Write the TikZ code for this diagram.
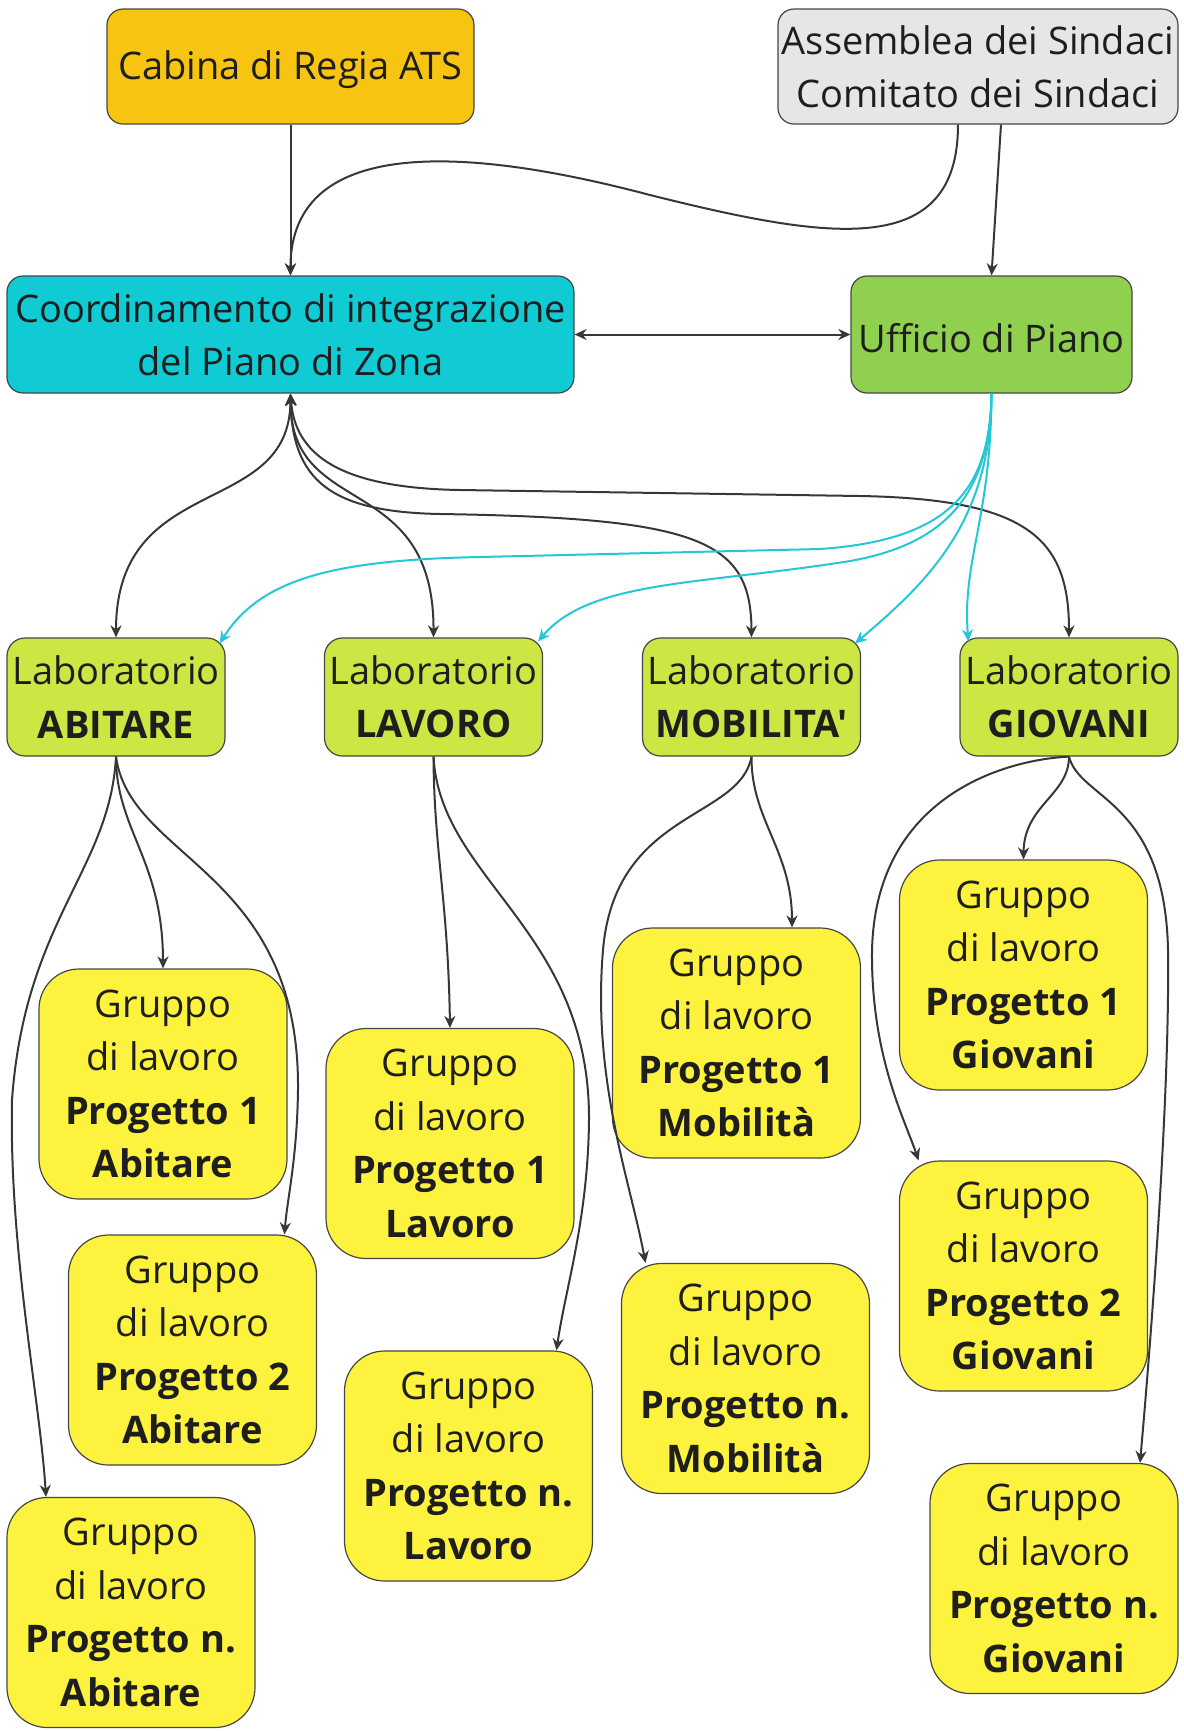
\documentclass[tikz,border=0pt]{standalone}
\usepackage{fontspec}
\setmainfont{Open Sans}[Ligatures=TeXOff]
\usetikzlibrary{arrows.meta}
\definecolor{cabcol}{RGB}{247,197,17}
\definecolor{asmcol}{RGB}{230,230,230}
\definecolor{coordcol}{RGB}{16,203,211}
\definecolor{uffcol}{RGB}{143,209,79}
\definecolor{labcol}{RGB}{205,230,68}
\definecolor{grpcol}{RGB}{253,242,62}
\definecolor{boxline}{RGB}{70,70,70}
\definecolor{arrcol}{RGB}{55,55,55}
\definecolor{cyancol}{RGB}{35,200,212}
\definecolor{txt}{RGB}{30,30,30}
\begin{document}
\begin{tikzpicture}[x=0.5pt,y=-0.5pt,
  box/.style={draw=boxline, line width=0.6pt, align=center, inner sep=1pt,
    font=\fontsize{19}{26.7}\selectfont, text=txt,
    execute at begin node={\rule{0pt}{18pt}}},
  topbox/.style={box, minimum height=57.5pt, rounded corners=8pt},
  labbox/.style={box, fill=labcol, minimum width=109pt, minimum height=59pt, rounded corners=9pt},
  grpbox/.style={box, fill=grpcol, minimum width=124pt, minimum height=115pt, rounded corners=20pt},
  conn/.style={draw=arrcol, line width=1pt, -{Stealth[length=6pt,width=5.5pt]}},
  conntwo/.style={draw=arrcol, line width=1pt, {Stealth[length=6pt,width=5.5pt]}-{Stealth[length=6pt,width=5.5pt]}},
  cyconn/.style={draw=cyancol, line width=1pt, -{Stealth[length=6pt,width=5.5pt]}},
]
\useasboundingbox (0,0) rectangle (1184,1731);

% top level
\node[topbox, fill=cabcol, minimum width=183.5pt] (cab) at (290.5,66.5) {Cabina di Regia ATS};
\node[topbox, fill=asmcol, minimum width=200pt] (asm) at (978,66.5) {Assemblea dei Sindaci\\Comitato dei Sindaci};
\node[topbox, fill=coordcol, minimum width=283.5pt, minimum height=58.5pt] (coord) at (290.5,334.5) {Coordinamento di integrazione\\del Piano di Zona};
\node[topbox, fill=uffcol, minimum width=140.5pt, minimum height=58.5pt] (uff) at (991.5,334.5) {Ufficio di Piano};

% laboratori
\node[labbox] (labA) at (116,697) {Laboratorio\\\textbf{ABITARE}};
\node[labbox] (labL) at (433.5,697) {Laboratorio\\\textbf{LAVORO}};
\node[labbox] (labM) at (751.5,697) {Laboratorio\\\textbf{MOBILITA'}};
\node[labbox] (labG) at (1069,697) {Laboratorio\\\textbf{GIOVANI}};

% gruppi
\node[grpbox] (ga1) at (163,1084) {Gruppo\\di lavoro\\\textbf{Progetto 1}\\\textbf{Abitare}};
\node[grpbox] (ga2) at (192.5,1350) {Gruppo\\di lavoro\\\textbf{Progetto 2}\\\textbf{Abitare}};
\node[grpbox] (gan) at (131,1612.5) {Gruppo\\di lavoro\\\textbf{Progetto n.}\\\textbf{Abitare}};
\node[grpbox] (gl1) at (450,1143.5) {Gruppo\\di lavoro\\\textbf{Progetto 1}\\\textbf{Lavoro}};
\node[grpbox] (gln) at (468.5,1466) {Gruppo\\di lavoro\\\textbf{Progetto n.}\\\textbf{Lavoro}};
\node[grpbox] (gm1) at (736.5,1043) {Gruppo\\di lavoro\\\textbf{Progetto 1}\\\textbf{Mobilità}};
\node[grpbox] (gmn) at (745.5,1378.5) {Gruppo\\di lavoro\\\textbf{Progetto n.}\\\textbf{Mobilità}};
\node[grpbox] (gg1) at (1023.5,975) {Gruppo\\di lavoro\\\textbf{Progetto 1}\\\textbf{Giovani}};
\node[grpbox] (gg2) at (1023.5,1276) {Gruppo\\di lavoro\\\textbf{Progetto 2}\\\textbf{Giovani}};
\node[grpbox] (ggn) at (1054,1578.5) {Gruppo\\di lavoro\\\textbf{Progetto n.}\\\textbf{Giovani}};

% top connectors
\draw[conn] (cab.south) -- (coord.north);
\draw[conn] ([xshift=-10pt]asm.south) .. controls (958,260) and (830,240) .. (650,195)
   .. controls (480,150) and (290,130) .. (coord.north);
\draw[conn] ([xshift=11.5pt]asm.south) -- (uff.north);
\draw[conntwo] (coord.east) -- (uff.west);

% coordinamento <-> laboratori
\draw[conntwo] (coord.south) .. controls (290,520) and (116,470) .. (labA.north);
\draw[conntwo] (coord.south) .. controls (290,520) and (434,470) .. (labL.north);
\draw[conntwo] (coord.south) .. controls (292,480) and (330,512) .. (440,514)
   .. controls (700,518) and (751,540) .. (labM.north);
\draw[conntwo] (coord.south) .. controls (295,455) and (340,488) .. (460,490) -- (860,496)
   .. controls (1030,499) and (1069,540) .. (labG.north);

% ufficio -> laboratori (cyan)
\draw[cyconn] (uff.south) .. controls (990,490) and (950,540) .. (820,549) -- (480,557)
   .. controls (330,560) and (260,580) .. ([xshift=-3pt,yshift=-3pt]labA.north east);
\draw[cyconn] (uff.south) .. controls (990,500) and (940,545) .. (850,561)
   .. controls (700,585) and (590,580) .. ([xshift=-2.5pt,yshift=-2pt]labL.north east);
\draw[cyconn] (uff.south) .. controls (991,520) and (930,580) .. ([xshift=-3pt,yshift=-3pt]labM.north east);
\draw[cyconn] (uff.south) .. controls (991,520) and (962,560) .. ([xshift=4.5pt,yshift=-2pt]labG.north west);

% laboratori -> gruppi
\draw[conn] (labA.south) .. controls (116,830) and (163,860) .. (ga1.north);
\draw[conn] (labA.south) .. controls (130,860) and (300,870) .. (298,1090)
   .. controls (297,1160) and (287,1200) .. ([xshift=46pt]ga2.north);
\draw[conn] (labA.south) .. controls (110,870) and (25,920) .. (12,1100)
   .. controls (9,1250) and (40,1400) .. ([xshift=-42.5pt]gan.north);

\draw[conn] (labL.south) .. controls (434,850) and (448,900) .. (gl1.north);
\draw[conn] (labL.south) .. controls (440,880) and (590,930) .. (589,1120)
   .. controls (588,1220) and (565,1290) .. ([xshift=44pt]gln.north);

\draw[conn] (labM.south) .. controls (751,820) and (792,850) .. ([xshift=27.75pt]gm1.north);
\draw[conn] (labM.south) .. controls (740,820) and (615,810) .. (603,950)
   .. controls (592,1080) and (630,1180) .. ([xshift=-50pt]gmn.north);

\draw[conn] (labG.south) .. controls (1069,795) and (1024,805) .. (gg1.north);
\draw[conn] (labG.south) .. controls (1000,760) and (870,800) .. (872,960)
   .. controls (873,1060) and (905,1120) .. ([xshift=-52.5pt]gg2.north);
\draw[conn] (labG.south) .. controls (1080,800) and (1165,800) .. (1168,950)
   .. controls (1170,1100) and (1150,1350) .. ([xshift=43pt]ggn.north);
\end{tikzpicture}
\end{document}
